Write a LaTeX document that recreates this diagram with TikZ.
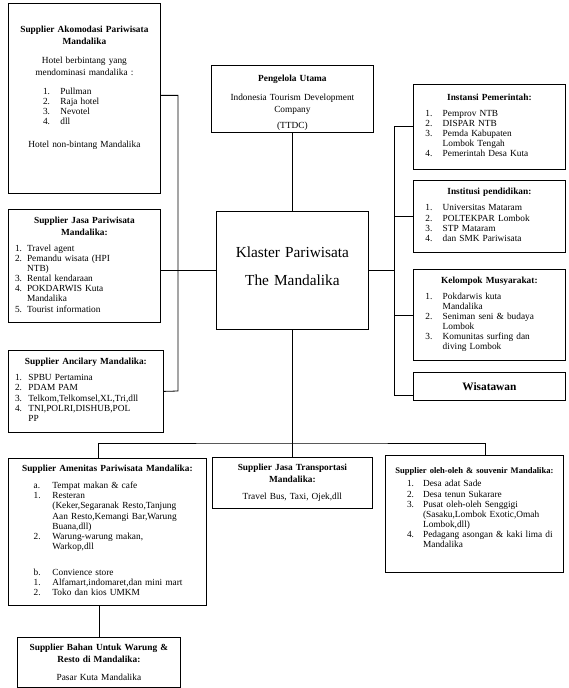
\documentclass[tikz,border=0pt]{standalone}
\usepackage{fontspec}
\setmainfont{Liberation Serif}
\usetikzlibrary{positioning,calc}

% numbered list inside a box: indent, number width, text width
\newenvironment{nlist}[3]{\fontsize{7}{7.6}\selectfont\begin{tabular}[t]{@{\hspace{#1}}p{#2}@{}p{#3}@{}}}{\end{tabular}}

\begin{document}
\begin{tikzpicture}[x=0.75pt, y=-0.75pt]
	\begin{scope}
		\tikzstyle{every node}=[align=center, inner sep=0pt, font=\fontsize{7}{9}\selectfont]
		\tikzstyle{box}=[draw, anchor=north west, line width=0.6pt]
		\tikzstyle{link}=[line width=0.6pt]

		\useasboundingbox (0,0) rectangle (568,688);

		% left column
		\node[box, text width=114pt, minimum height=142.5pt] (ako) at (8,3) {%
			\textbf{Supplier Akomodasi Pariwisata\\Mandalika}\\[5pt]
			Hotel berbintang yang\\mendominasi mandalika :\\[5pt]
			\begin{nlist}{21pt}{13pt}{70pt}1. & Pullman\\2. & Raja hotel\\3. & Nevotel\\4. & dll\end{nlist}\hfill\\[9pt]
			Hotel non-bintang Mandalika\\\rule{0pt}{15pt}};
		\node[box, text width=114pt, minimum height=84.75pt] (jasa) at (8,209) {%
			\textbf{Supplier Jasa Pariwisata\\Mandalika:}\\[3pt]
			\begin{nlist}{5pt}{9pt}{90pt}1. & Travel agent\\2. & Pemandu wisata (HPI\newline NTB)\\3. & Rental kendaraan\\4. & POKDARWIS Kuta\newline Mandalika\\5. & Tourist information\end{nlist}\hfill\null};
		\node[box, text width=116.25pt, minimum height=61.5pt] (anc) at (8,350) {%
			\textbf{Supplier Ancilary Mandalika:}\\[3pt]
			\begin{nlist}{5pt}{10pt}{95pt}1. & SPBU Pertamina\\2. & PDAM PAM\\3. & Telkom,Telkomsel,XL,Tri,dll\\4. & TNI,POLRI,DISHUB,POL\newline PP\end{nlist}\hfill\null};

		% middle column
		\node[box, text width=121.5pt, minimum height=50.25pt] (peng) at (211,65) {%
			\rule{0pt}{11pt}\textbf{Pengelola Utama}\\[5pt]
			Indonesia Tourism Development\\Company\\[3pt](TTDC)};
		\node[box, text width=114pt, minimum height=88.5pt, font=\fontsize{11.5}{14}\selectfont] (klas) at (216,211) {%
			Klaster Pariwisata\\[7pt]The Mandalika\rule[-6pt]{0pt}{0pt}};

		% right column
		\node[box, text width=114pt, minimum height=63.75pt] (inst) at (413,84) {%
			\textbf{Instansi Pemerintah:}\\[3pt]
			\begin{nlist}{9pt}{13pt}{85pt}1. & Pemprov NTB\\2. & DISPAR NTB\\3. & Pemda Kabupaten\newline Lombok Tengah\\4. & Pemerintah Desa Kuta\end{nlist}\hfill\null};
		\node[box, text width=114pt, minimum height=54pt] (instp) at (413,180) {%
			\textbf{Institusi pendidikan:}\\[3pt]
			\begin{nlist}{9pt}{13pt}{85pt}1. & Universitas Mataram\\2. & POLTEKPAR Lombok\\3. & STP Mataram\\4. & dan SMK Pariwisata\end{nlist}\hfill\null};
		\node[box, text width=114pt, minimum height=68.25pt] (kel) at (413,269) {%
			\textbf{Kelompok Musyarakat:}\\[3pt]
			\begin{nlist}{9pt}{13pt}{85pt}1. & Pokdarwis kuta\newline Mandalika\\2. & Seniman seni \& budaya\newline Lombok\\3. & Komunitas surfing dan\newline diving Lombok\end{nlist}\hfill\null};
		\node[box, text width=114pt, minimum height=21pt, font=\fontsize{8.5}{10}\selectfont\bfseries] (wis) at (413,372) {Wisatawan};

		% bottom row
		\node[box, text width=148.5pt, minimum height=110.25pt] (amen) at (8,458) {%
			\textbf{Supplier Amenitas Pariwisata Mandalika:}\\[4pt]
			\begin{nlist}{19pt}{14pt}{110pt}a. & Tempat makan \& cafe\\1. & Resteran\newline(Keker,Segaranak Resto,Tanjung\newline Aan Resto,Kemangi Bar,Warung\newline Buana,dll)\\2. & Warung-warung makan,\newline Warkop,dll\\[12pt]b. & Convience store\\1. & Alfamart,indomaret,dan mini mart\\2. & Toko dan kios UMKM\end{nlist}\hfill\null};
		\node[box, text width=120pt, minimum height=38.25pt] (trans) at (212,457) {%
			\textbf{Supplier Jasa Transportasi\\Mandalika:}\\[4pt]
			Travel Bus, Taxi, Ojek,dll};
		\node[box, text width=133.5pt, minimum height=87.75pt] (oleh) at (385,455) {%
			{\fontsize{6.4}{8}\selectfont\textbf{Supplier oleh-oleh \& souvenir Mandalika:}}\\[1pt]
			\begin{nlist}{16pt}{12pt}{105pt}1. & Desa adat Sade\\2. & Desa tenun Sukarare\\3. & Pusat oleh-oleh Senggigi\newline(Sasaku,Lombok Exotic,Omah\newline Lombok,dll)\\4. & Pedagang asongan \& kaki lima di\newline Mandalika\end{nlist}\hfill\\\rule{0pt}{6pt}};
		\node[box, text width=122.25pt, minimum height=37.5pt] (bahan) at (17,637) {%
			\textbf{Supplier Bahan Untuk Warung \&\\Resto di Mandalika:}\\[4pt]
			Pasar Kuta Mandalika};

		% rails
		\coordinate (lrail) at (178,391);
		\coordinate (rrail) at (394,395);
		\coordinate (bus)   at (292,443);
		\coordinate (amtap) at (98,458);
		\coordinate (oltap) at (485,455);

		\draw[link] ([yshift=2.25pt]ako.east) -| (lrail) -- (anc.east);
		\draw[link] (jasa.east |- klas.west) -- (klas.west);
		\draw[link] (peng.south) -- (klas.north);

		\draw[link] (inst.west) -| (rrail) -- (wis.west |- rrail);
		\draw[link] (klas.east) -- (klas.east -| rrail);
		\draw[link] (instp.west) -- (instp.west -| rrail);
		\draw[link] (kel.west) -- (kel.west -| rrail);

		\draw[link] (klas.south) -- (trans.north);
		\draw[link] (amtap) |- (bus) -| (oltap);
		\draw[link] (bahan.north) -- (bahan.north |- amen.south);
	\end{scope}
\end{tikzpicture}
\end{document}
